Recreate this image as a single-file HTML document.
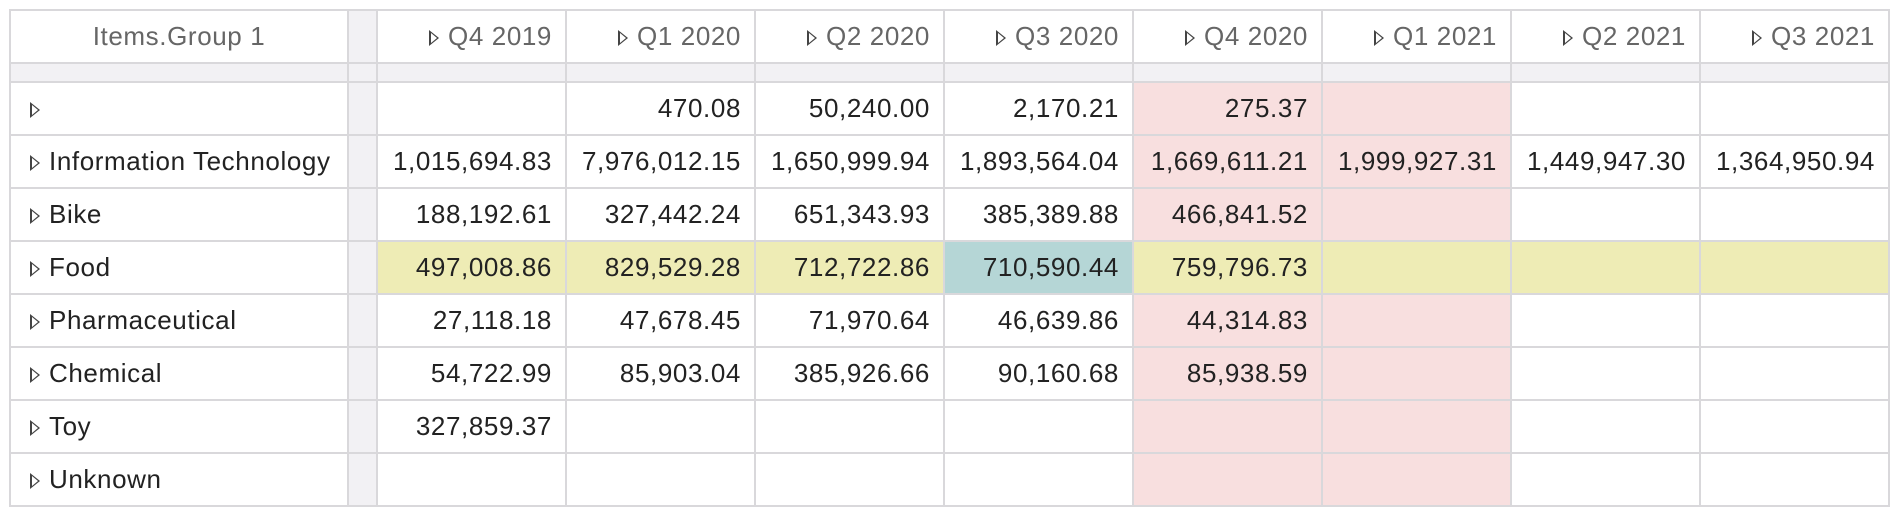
<!DOCTYPE html>
<html><head><style>
body{margin:0;background:#fff;width:1902px;height:517px;overflow:hidden;font-family:"Liberation Sans",sans-serif;}
table{position:absolute;left:9px;top:9px;border-collapse:collapse;table-layout:fixed;}
td{border:2px solid #d9d8db;padding:0 13px 0 0;text-align:right;font-size:26px;letter-spacing:0.6px;color:#222;white-space:nowrap;overflow:hidden;height:51px;}
tr.h td{height:51px;color:#666;}
tr.b td{height:17px;background:#f2f1f4;}
td.f{text-align:left;padding-left:19px;}
td.g{background:#f2f1f4;padding:0;}
.p{background:#f8dfdf;}
.y{background:#eeecb5;}
.t{background:#b5d6d6;}
.tri{display:inline-block;width:0;height:0;border-top:8px solid transparent;border-bottom:8px solid transparent;border-left:10px solid #444;position:relative;margin-right:9px;top:1px}
.tri:after{content:"";position:absolute;left:-8.5px;top:-5px;border-top:5px solid transparent;border-bottom:5px solid transparent;border-left:6px solid #fff;}
.y .tri:after{border-left-color:#eeecb5}
</style></head><body>
<table>
<colgroup><col style="width:338px"><col style="width:29px"><col style="width:189px"><col style="width:189px"><col style="width:189px"><col style="width:189px"><col style="width:189px"><col style="width:189px"><col style="width:189px"><col style="width:189px"></colgroup>
<tr class="h"><td style="text-align:center;padding:0">Items.Group 1</td><td class="g"></td><td><span class="tri"></span>Q4 2019</td><td><span class="tri"></span>Q1 2020</td><td><span class="tri"></span>Q2 2020</td><td><span class="tri"></span>Q3 2020</td><td><span class="tri"></span>Q4 2020</td><td><span class="tri"></span>Q1 2021</td><td><span class="tri"></span>Q2 2021</td><td><span class="tri"></span>Q3 2021</td></tr>
<tr class="b"><td></td><td></td><td></td><td></td><td></td><td></td><td></td><td></td><td></td><td></td></tr>
<tr><td class="f"><span class="tri"></span></td><td class="g"></td><td></td><td>470.08</td><td>50,240.00</td><td>2,170.21</td><td class="p">275.37</td><td class="p"></td><td></td><td></td></tr>
<tr><td class="f"><span class="tri"></span>Information Technology</td><td class="g"></td><td>1,015,694.83</td><td>7,976,012.15</td><td>1,650,999.94</td><td>1,893,564.04</td><td class="p">1,669,611.21</td><td class="p">1,999,927.31</td><td>1,449,947.30</td><td>1,364,950.94</td></tr>
<tr><td class="f"><span class="tri"></span>Bike</td><td class="g"></td><td>188,192.61</td><td>327,442.24</td><td>651,343.93</td><td>385,389.88</td><td class="p">466,841.52</td><td class="p"></td><td></td><td></td></tr>
<tr><td class="f"><span class="tri"></span>Food</td><td class="g"></td><td class="y">497,008.86</td><td class="y">829,529.28</td><td class="y">712,722.86</td><td class="t">710,590.44</td><td class="y">759,796.73</td><td class="y"></td><td class="y"></td><td class="y"></td></tr>
<tr><td class="f"><span class="tri"></span>Pharmaceutical</td><td class="g"></td><td>27,118.18</td><td>47,678.45</td><td>71,970.64</td><td>46,639.86</td><td class="p">44,314.83</td><td class="p"></td><td></td><td></td></tr>
<tr><td class="f"><span class="tri"></span>Chemical</td><td class="g"></td><td>54,722.99</td><td>85,903.04</td><td>385,926.66</td><td>90,160.68</td><td class="p">85,938.59</td><td class="p"></td><td></td><td></td></tr>
<tr><td class="f"><span class="tri"></span>Toy</td><td class="g"></td><td>327,859.37</td><td></td><td></td><td></td><td class="p"></td><td class="p"></td><td></td><td></td></tr>
<tr><td class="f"><span class="tri"></span>Unknown</td><td class="g"></td><td></td><td></td><td></td><td></td><td class="p"></td><td class="p"></td><td></td><td></td></tr>
</table>
</body></html>
